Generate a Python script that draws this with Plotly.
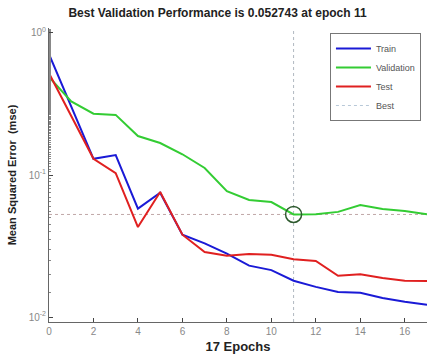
import plotly.graph_objects as go

epochs = list(range(0, 18))
train = [0.71, 0.30, 0.13, 0.138, 0.058, 0.075, 0.038, 0.033, 0.028, 0.023, 0.0214, 0.018, 0.0163, 0.015, 0.0148, 0.0136, 0.0128, 0.0122]
validation = [0.49, 0.33, 0.27, 0.265, 0.188, 0.168, 0.14, 0.112, 0.077, 0.0667, 0.0645, 0.052743, 0.053, 0.055, 0.0615, 0.0577, 0.0557, 0.053]
test = [0.52, 0.26, 0.13, 0.103, 0.043, 0.076, 0.038, 0.0287, 0.027, 0.0278, 0.0274, 0.0255, 0.0248, 0.0195, 0.020, 0.0188, 0.018, 0.0179]
best_epoch = 11
best_value = 0.052743
ytick_vals = [1, 0.1, 0.01]
ytick_text = ["10<sup>0</sup>", "10<sup>-1</sup>", "10<sup>-2</sup>"]

font = "Liberation Sans, Arial, sans-serif"
fig = go.Figure()
fig.add_trace(go.Scatter(x=epochs, y=train, mode="lines", name="Train", line=dict(color="#1a1ad6", width=2)))
fig.add_trace(go.Scatter(x=epochs, y=validation, mode="lines", name="Validation", line=dict(color="#33cc33", width=2)))
fig.add_trace(go.Scatter(x=epochs, y=test, mode="lines", name="Test", line=dict(color="#e02020", width=2)))
fig.add_trace(go.Scatter(x=[None], y=[None], mode="lines", name="Best", line=dict(color="#b8c8d8", width=1, dash="dot")))
fig.add_trace(go.Scatter(x=[best_epoch], y=[best_value], mode="markers", showlegend=False,
                         marker=dict(symbol="circle-open", size=16, color="#2e5a2e", line=dict(width=1.5))))

fig.add_shape(type="line", x0=best_epoch, x1=best_epoch, y0=0, y1=1, yref="paper", xref="x",
              line=dict(color="#b0b8c0", width=1, dash="dot"), layer="below")
fig.add_shape(type="line", x0=0, x1=1, xref="paper", y0=best_value, y1=best_value, yref="y",
              line=dict(color="#c0a8a8", width=1, dash="dot"), layer="below")

fig.update_layout(
    width=435, height=358,
    margin=dict(l=49, r=8, t=28, b=36),
    paper_bgcolor="white", plot_bgcolor="white",
    font=dict(family=font, color="#333"),
    title=dict(text="<b>Best Validation Performance is 0.052743 at epoch 11</b>", x=0.5, xanchor="center",
               y=0.975, yanchor="top", font=dict(size=12, color="#222")),
    legend=dict(x=0.984, y=0.983, xanchor="right", yanchor="top", bgcolor="white",
                bordercolor="#777", borderwidth=1, font=dict(size=9, color="#555"),
                tracegroupgap=0, itemwidth=35),
    showlegend=True,
)
fig.update_xaxes(range=[0, 17], tickvals=list(range(0, 17, 2)), ticks="inside", ticklen=4,
                 showline=True, linecolor="#666", showgrid=False, zeroline=False,
                 tickfont=dict(size=10, color="#888"),
                 title=dict(text="<b>17 Epochs</b>", font=dict(size=13, color="#222"), standoff=5))
fig.update_yaxes(type="log", range=[-2.035, 0.035], tickvals=ytick_vals, ticktext=ytick_text,
                 ticks="inside", ticklen=4, showline=True, linecolor="#666", showgrid=False, zeroline=False,
                 tickfont=dict(size=10, color="#888"),
                 minor=dict(ticks="inside", ticklen=2, tickcolor="#888", showgrid=False),
                 title=dict(text="<b>Mean Squared Error  (mse)</b>", font=dict(size=11, color="#222"), standoff=9))
fig.write_html("out.html")
